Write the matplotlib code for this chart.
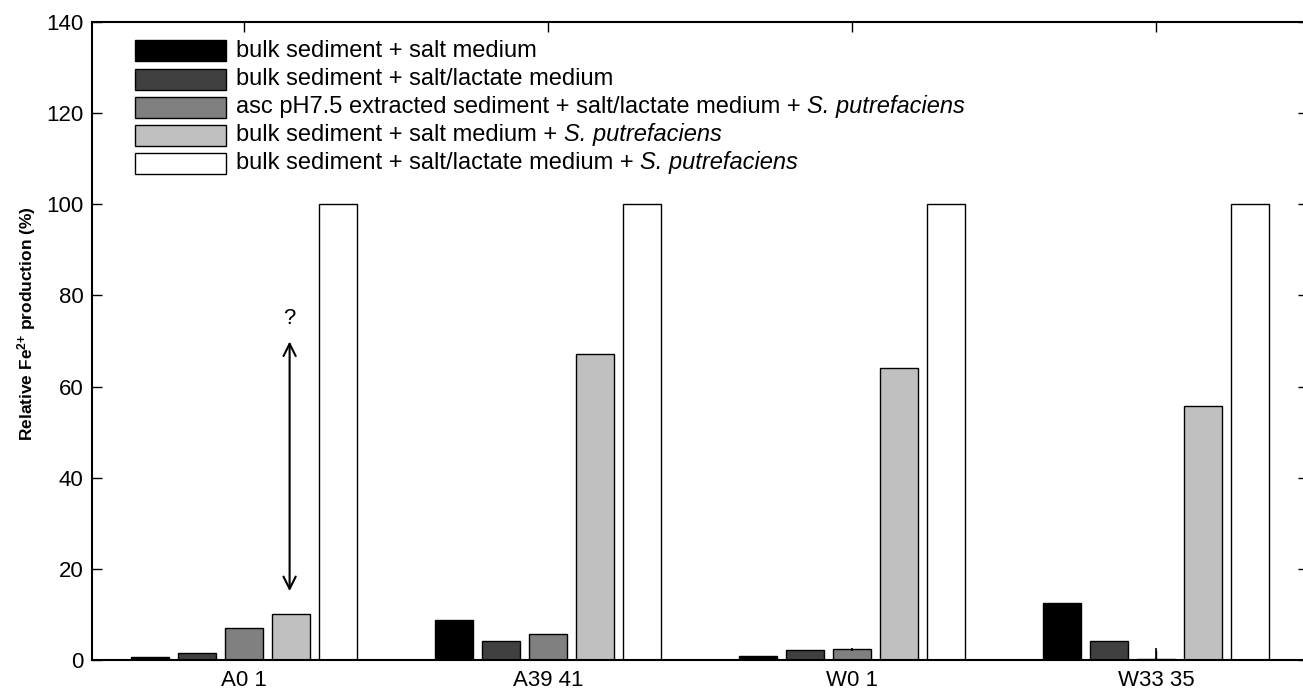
import matplotlib
matplotlib.use("Agg")
import matplotlib.pyplot as plt
from matplotlib.patches import Rectangle
import numpy as np

plt.rcParams["font.family"] = ["Liberation Sans", "DejaVu Sans"]
plt.rcParams["mathtext.fontset"] = "custom"
plt.rcParams["mathtext.rm"] = "Liberation Sans"
plt.rcParams["mathtext.it"] = "Liberation Sans:italic"
plt.rcParams["mathtext.bf"] = "Liberation Sans:bold"

# Sediment samples
samples = ["A0 1", "A39 41", "W0 1", "W33 35"]

# Relative Fe2+ production (%) for each treatment
bulk_salt = [0.6, 8.8, 0.8, 12.6]
bulk_lactate = [1.5, 4.2, 2.3, 4.2]
asc_extracted_lactate_sp = [7.1, 5.8, 2.35, 0.2]
asc_extracted_err = [0.0, 0.0, 0.3, 2.4]
bulk_salt_sp = [10.0, 67.2, 64.1, 55.7]
bulk_lactate_sp = [100, 100, 100, 100]

series = [bulk_salt, bulk_lactate, asc_extracted_lactate_sp, bulk_salt_sp, bulk_lactate_sp]
colors = ["#000000", "#404040", "#808080", "#c0c0c0", "#ffffff"]
# (plain part, italic species part)
labels = [
    ("bulk sediment + salt medium", ""),
    ("bulk sediment + salt/lactate medium", ""),
    ("asc pH7.5 extracted sediment + salt/lactate medium + ", "S. putrefaciens"),
    ("bulk sediment + salt medium + ", "S. putrefaciens"),
    ("bulk sediment + salt/lactate medium + ", "S. putrefaciens"),
]

fig = plt.figure(figsize=(13.03, 6.89), dpi=100)
ax = fig.add_axes([92 / 1303, 1 - 660 / 689, 1216 / 1303, 638 / 689])

x = np.arange(1, len(samples) + 1)
pitch = 0.155
width = 0.125
for i, (vals, c) in enumerate(zip(series, colors)):
    xs = x + (i - 2) * pitch
    ax.bar(xs, vals, width=width, color=c, edgecolor="black", linewidth=1.0, zorder=2)
    if i == 2:
        ax.errorbar(xs, vals, yerr=asc_extracted_err, fmt="none", ecolor="black",
                    elinewidth=1.2, capsize=0, zorder=3)

# Uncertainty arrow above the A0 1 S. putrefaciens bar
ax.annotate("", xy=(1.15, 70.5), xytext=(1.15, 14.5),
            arrowprops=dict(arrowstyle="<->", lw=1.5, color="black", mutation_scale=22))
ax.text(1.15, 75, "?", ha="center", va="center", fontsize=16)

ax.set_xlim(0.5, 4.5)
ax.set_ylim(0, 140)
ax.set_xticks(x)
ax.set_xticklabels(samples)
ax.set_yticks(np.arange(0, 141, 20))
ax.tick_params(axis="both", direction="in", length=7, width=1.0, labelsize=16,
               top=True, right=True)
ax.tick_params(axis="x", pad=7)
ax.tick_params(axis="y", pad=6)
for s in ax.spines.values():
    s.set_linewidth(1.5)

ax.set_ylabel(r"Relative Fe$^{\mathbf{2{+}}}$ production (%)", fontsize=12.5, fontweight="bold")
ax.yaxis.set_label_coords(-0.044, 0.527)

# Legend drawn as swatches and labels in axes coordinates
box_x = (135 - 92) / 1216
box_w = 91 / 1216
box_h = 21 / 638
text_x = (236 - 92) / 1216
for i, (c, (plain, italic)) in enumerate(zip(colors, labels)):
    yc = (660 - (51 + 28 * i)) / 638
    ax.add_patch(Rectangle((box_x, yc - box_h / 2), box_w, box_h, transform=ax.transAxes,
                           facecolor=c, edgecolor="black", linewidth=1.0, zorder=4))
    t = ax.text(text_x, yc, plain, transform=ax.transAxes, ha="left", va="center",
                fontsize=17, zorder=4)
    if italic:
        ax.annotate(italic, xy=(1, 0), xycoords=t, ha="left", va="bottom",
                    fontsize=17, fontstyle="italic", zorder=4)

fig.savefig("out.png", dpi=100)
